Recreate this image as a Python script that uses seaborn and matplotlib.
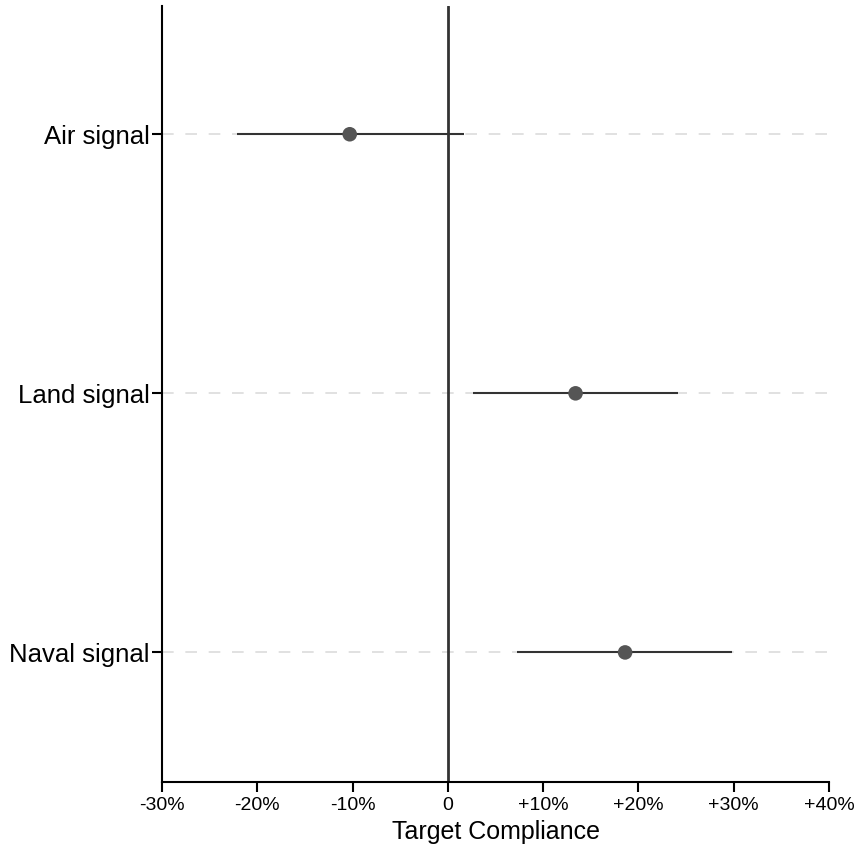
import matplotlib
matplotlib.use("Agg")
import matplotlib.pyplot as plt
import seaborn as sns
import pandas as pd
from matplotlib.ticker import FuncFormatter

signals = ["Air signal", "Land signal", "Naval signal"]
estimate = [-10.3, 13.4, 18.6]
ci_low = [-22.1, 2.6, 7.3]
ci_high = [1.7, 24.2, 29.8]
xticks = [-30, -20, -10, 0, 10, 20, 30, 40]

df = pd.DataFrame({"signal": signals, "est": estimate, "lo": ci_low, "hi": ci_high})
df["pos"] = range(len(df))

sns.set_style("white", {"xtick.bottom": True, "ytick.left": True,
                        "text.color": "black", "xtick.color": "black",
                        "ytick.color": "black", "axes.labelcolor": "black"})
plt.rcParams["font.family"] = ["Liberation Sans", "DejaVu Sans"]

fig = plt.figure(figsize=(8.55, 8.46), dpi=100)
ax = fig.add_axes([0.1895, 0.0757, 0.7801, 0.9172])

# dashed horizontal guides
for p in df["pos"]:
    ax.axhline(p, color="#dcdcdc", lw=1.2, ls=(0, (7, 7)), zorder=0)

ax.axvline(0, color="#333333", lw=2, zorder=1)
ax.hlines(df["pos"], df["lo"], df["hi"], color="#333333", lw=1.5, zorder=2)
sns.scatterplot(data=df, x="est", y="pos", ax=ax, color="#555555", s=110,
                edgecolor="none", zorder=3, legend=False)

ax.set_xlim(-30, 40)
ax.set_ylim(2.5, -0.495)
ax.set_xticks(xticks)
ax.xaxis.set_major_formatter(FuncFormatter(lambda v, _: "0" if v == 0 else f"{v:+.0f}%"))
ax.set_yticks(df["pos"])
ax.set_yticklabels(signals)
ax.tick_params(axis="x", labelsize=14, length=7, width=1.5, color="black", pad=4)
ax.tick_params(axis="y", labelsize=18.5, length=7, width=1.5, color="black", pad=2)
ax.set_xlabel("Target Compliance", fontsize=18, labelpad=4)
ax.set_ylabel("")

sns.despine(ax=ax)
for s in ["left", "bottom"]:
    ax.spines[s].set_linewidth(1.5)
    ax.spines[s].set_color("black")

fig.savefig("out.png", dpi=100)
